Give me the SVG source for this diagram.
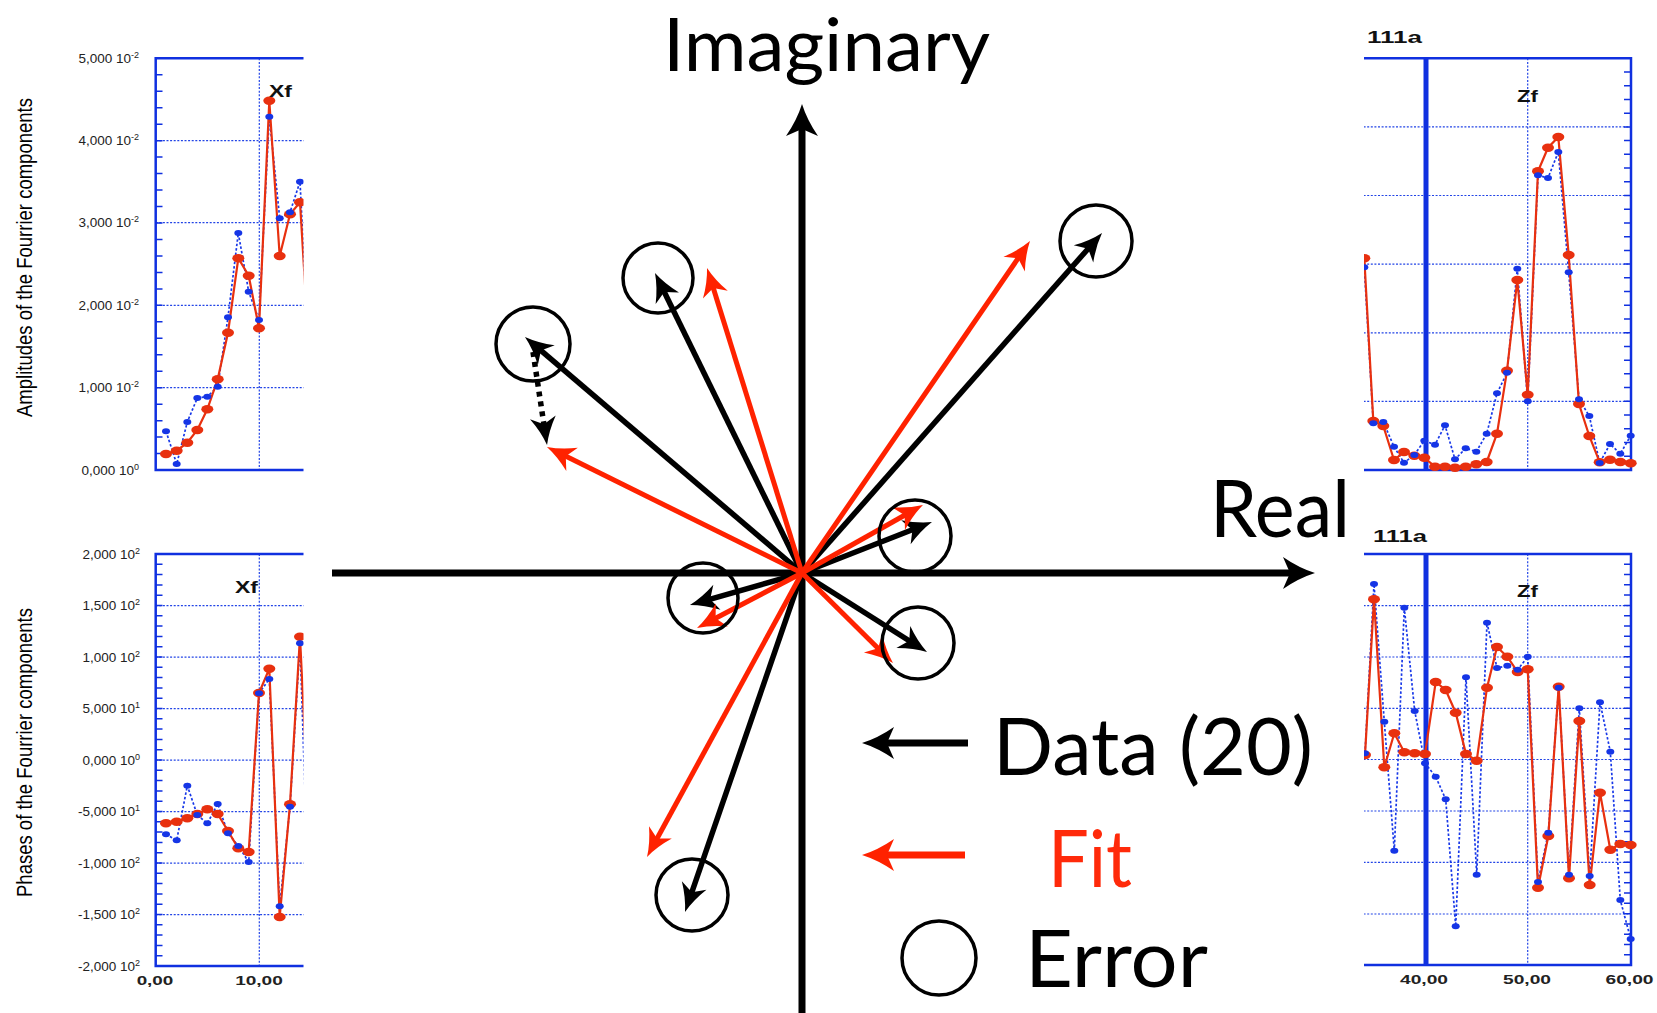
<svg xmlns="http://www.w3.org/2000/svg" width="1657" height="1013" viewBox="0 0 1657 1013">
<style>
.frame{stroke:#1030e0;stroke-width:2.5;fill:none}
.thick{stroke:#1030e0;stroke-width:5;fill:none}
.grid{stroke:#2244e6;stroke-width:1.2;stroke-dasharray:2 1.6;fill:none}
.tick{stroke:#1030e0;fill:none}
.sb{stroke:#1838e8;stroke-width:1.7;stroke-dasharray:2.5 2;fill:none}
.sr{stroke:#e8300f;stroke-width:2.2;fill:none;marker-start:url(#rdot);marker-mid:url(#rdot);marker-end:url(#rdot)}
.sbm{stroke:none;fill:none;marker-start:url(#bdot);marker-mid:url(#bdot);marker-end:url(#bdot)}
.ylab{font-family:"Liberation Sans",Arial,sans-serif;font-size:13.5px;fill:#222;text-anchor:end}
.xlab{font-family:"Liberation Sans",Arial,sans-serif;font-size:13px;font-weight:bold;fill:#222;text-anchor:middle}
.ctitle{font-family:"Liberation Sans",Arial,sans-serif;font-size:17px;font-weight:bold;fill:#111}
.atitle{font-family:"Liberation Sans",Arial,sans-serif;font-size:22px;fill:#000;text-anchor:middle}
.big{font-family:Lato,"Open Sans","DejaVu Sans",sans-serif;font-size:80px;fill:#000}
.axis{stroke:#000;stroke-width:7;fill:none;marker-end:url(#axh)}
.vb{stroke:#000;stroke-width:5.5;fill:none;marker-end:url(#hb)}
.vr{stroke:#ff2200;stroke-width:5;fill:none;marker-end:url(#hr)}
.err{fill:none;stroke:#000;stroke-width:3.5}
</style>
<defs>
<marker id="rdot" markerUnits="userSpaceOnUse" markerWidth="14" markerHeight="10" refX="7" refY="5" orient="0"><ellipse cx="7" cy="5" rx="6" ry="4.2" fill="#e8300f"/></marker>
<marker id="bdot" markerUnits="userSpaceOnUse" markerWidth="10" markerHeight="8" refX="5" refY="4" orient="0"><ellipse cx="5" cy="4" rx="4" ry="3" fill="#1535e6"/></marker>
<marker id="hb" markerUnits="userSpaceOnUse" overflow="visible" orient="auto" refX="0" refY="0" markerWidth="1" markerHeight="1"><path d="M15,0 Q1,-4 -13,-13 L-6,0 L-13,13 Q1,4 15,0 Z" fill="#000"/></marker>
<marker id="hr" markerUnits="userSpaceOnUse" overflow="visible" orient="auto" refX="0" refY="0" markerWidth="1" markerHeight="1"><path d="M15,0 Q1,-4 -13,-13 L-6,0 L-13,13 Q1,4 15,0 Z" fill="#ff2200"/></marker>
<marker id="axh" markerUnits="userSpaceOnUse" overflow="visible" orient="auto" refX="0" refY="0" markerWidth="1" markerHeight="1"><path d="M18,0 Q2,-5 -14,-16 L-7,0 L-14,16 Q2,5 18,0 Z" fill="#000"/></marker>
<marker id="axhr" markerUnits="userSpaceOnUse" overflow="visible" orient="auto" refX="0" refY="0" markerWidth="1" markerHeight="1"><path d="M18,0 Q2,-5 -14,-16 L-7,0 L-14,16 Q2,5 18,0 Z" fill="#ff2200"/></marker>
<clipPath id="clipL"><rect x="0" y="0" width="303.5" height="1013"/></clipPath>
<clipPath id="clipR"><rect x="1364" y="0" width="293" height="1013"/></clipPath>
</defs>
<rect width="1657" height="1013" fill="#fff"/>

<!-- Top-left chart: amplitudes Xf -->
<g id="chart-amplitude-xf">
<text class="atitle" transform="translate(32,257.5) rotate(-90)" textLength="319" lengthAdjust="spacingAndGlyphs">Amplitudes of the Fourrier components</text>
<text class="ylab" x="139" y="62.8">5,000 10<tspan font-size="9" dy="-5">-2</tspan></text>
<text class="ylab" x="139" y="145.2">4,000 10<tspan font-size="9" dy="-5">-2</tspan></text>
<text class="ylab" x="139" y="227.2">3,000 10<tspan font-size="9" dy="-5">-2</tspan></text>
<text class="ylab" x="139" y="309.8">2,000 10<tspan font-size="9" dy="-5">-2</tspan></text>
<text class="ylab" x="139" y="392.2">1,000 10<tspan font-size="9" dy="-5">-2</tspan></text>
<text class="ylab" x="139" y="474.5">0,000 10<tspan font-size="9" dy="-5">0</tspan></text>
<g clip-path="url(#clipL)">
<path class="grid" d="M155.7,140.7H304M155.7,222.7H304M155.7,305.3H304M155.7,387.7H304M259.3,58.3V470"/>
<line class="tick" x1="159.1" y1="57.55" x2="159.1" y2="470.75" stroke-width="6.8" stroke-dasharray="1.5 14.97"/>
<path class="frame" d="M304,58.3H155.7V470H304"/>
<polyline class="sb" points="166,431.3 176.7,464 187.3,422 197.3,398 207.3,396.7 217.7,386.7 228,317.3 238.3,233 248.7,291.7 259,320 269.3,116.7 279.7,218.3 290,212.3 300,181.7 310.4,386"/>
<polyline class="sr" points="166,454 176.7,450.7 187.3,442.7 197.3,430 207.3,409.3 217.7,379.3 228,332.7 238.3,258.3 248.7,275.7 259,328.3 269.3,100.7 279.7,256 290,214.3 300,202.3 310.4,373"/>
<polyline class="sbm" points="166,431.3 176.7,464 187.3,422 197.3,398 207.3,396.7 217.7,386.7 228,317.3 238.3,233 248.7,291.7 259,320 269.3,116.7 279.7,218.3 290,212.3 300,181.7 310.4,386"/>
</g>
<text class="ctitle" x="269" y="96.7" textLength="23" lengthAdjust="spacingAndGlyphs">Xf</text>
</g>

<!-- Bottom-left chart: phases Xf -->
<g id="chart-phase-xf">
<text class="atitle" transform="translate(32,752.5) rotate(-90)" textLength="289" lengthAdjust="spacingAndGlyphs">Phases of the Fourrier components</text>
<text class="ylab" x="140" y="558.5">2,000 10<tspan font-size="9" dy="-5">2</tspan></text>
<text class="ylab" x="140" y="610.2">1,500 10<tspan font-size="9" dy="-5">2</tspan></text>
<text class="ylab" x="140" y="661.7">1,000 10<tspan font-size="9" dy="-5">2</tspan></text>
<text class="ylab" x="140" y="713.2">5,000 10<tspan font-size="9" dy="-5">1</tspan></text>
<text class="ylab" x="140" y="764.7">0,000 10<tspan font-size="9" dy="-5">0</tspan></text>
<text class="ylab" x="140" y="816.2">-5,000 10<tspan font-size="9" dy="-5">1</tspan></text>
<text class="ylab" x="140" y="867.7">-1,000 10<tspan font-size="9" dy="-5">2</tspan></text>
<text class="ylab" x="140" y="919.2">-1,500 10<tspan font-size="9" dy="-5">2</tspan></text>
<text class="ylab" x="140" y="970.5">-2,000 10<tspan font-size="9" dy="-5">2</tspan></text>
<text class="xlab" x="155" y="985" textLength="36.7" lengthAdjust="spacingAndGlyphs">0,00</text>
<text class="xlab" x="259" y="985" textLength="47.7" lengthAdjust="spacingAndGlyphs">10,00</text>
<g clip-path="url(#clipL)">
<path class="grid" d="M155.7,605.7H304M155.7,657.2H304M155.7,708.7H304M155.7,760.2H304M155.7,811.7H304M155.7,863.2H304M155.7,914.7H304M259.3,554V966"/>
<line class="tick" x1="159.1" y1="553.25" x2="159.1" y2="966.75" stroke-width="6.8" stroke-dasharray="1.5 8.8"/>
<path class="frame" d="M304,554H155.7V966H304"/>
<polyline class="sb" points="166,834.3 176.7,840.3 187.3,785.7 197.3,815 207.3,823.3 217.7,804 228,833.3 238.3,846 248.7,862 259,693.3 269.3,679 279.7,906.3 290,806.7 300,643.3 310.4,953"/>
<polyline class="sr" points="166,823.3 176.7,821.7 187.3,818.3 197.3,814 207.3,809.3 217.7,814 228,831 238.3,848.3 248.7,852 259,693 269.3,668.7 279.7,917 290,804.3 300,636.7 310.4,852"/>
<polyline class="sbm" points="166,834.3 176.7,840.3 187.3,785.7 197.3,815 207.3,823.3 217.7,804 228,833.3 238.3,846 248.7,862 259,693.3 269.3,679 279.7,906.3 290,806.7 300,643.3 310.4,953"/>
</g>
<text class="ctitle" x="235" y="592.7" textLength="23" lengthAdjust="spacingAndGlyphs">Xf</text>
</g>

<!-- Top-right chart: amplitudes Zf -->
<g id="chart-amplitude-zf">
<text class="ctitle" x="1367" y="42.7" font-size="18" textLength="55" lengthAdjust="spacingAndGlyphs">111a</text>
<g clip-path="url(#clipR)">
<path class="grid" d="M1360,126.9H1631M1360,195.5H1631M1360,264.2H1631M1360,332.8H1631M1360,401.4H1631M1527.7,58.3V470"/>
<line class="tick" x1="1627.5" y1="57.55" x2="1627.5" y2="470.75" stroke-width="7" stroke-dasharray="1.5 12.22"/>
<path class="frame" d="M1360,58.3H1631V470H1360"/>
<line class="thick" x1="1426" y1="58.3" x2="1426" y2="470"/>
<polyline class="sb" points="1364.3,267.3 1373.3,423.3 1383.3,422 1394,446.7 1404,462.7 1414.3,455 1424.3,440.7 1435,444.7 1445,425.3 1455,459.3 1465.7,448.3 1476.3,451.7 1486.7,433.7 1497,393.3 1507,372.7 1517.3,268.7 1527.7,401.3 1538,175.3 1548,178 1558.3,152 1568.7,272.3 1579,399.3 1589.3,416 1599.7,463 1610,444 1620.3,453.7 1630.7,435.7"/>
<polyline class="sr" points="1364.3,258.3 1373.3,421 1383.3,426 1394,460 1404,452 1414.3,455.7 1424.3,457.7 1435,466.7 1445,466.7 1455,467.7 1465.7,466.7 1476.3,464.3 1486.7,462 1497,433.7 1507,370.7 1517.3,280 1527.7,394.7 1538,171.3 1548,147.7 1558.3,137 1568.7,255 1579,404 1589.3,436 1599.7,462.3 1610,459.7 1620.3,462 1630.7,463.3"/>
<polyline class="sbm" points="1364.3,267.3 1373.3,423.3 1383.3,422 1394,446.7 1404,462.7 1414.3,455 1424.3,440.7 1435,444.7 1445,425.3 1455,459.3 1465.7,448.3 1476.3,451.7 1486.7,433.7 1497,393.3 1507,372.7 1517.3,268.7 1527.7,401.3 1538,175.3 1548,178 1558.3,152 1568.7,272.3 1579,399.3 1589.3,416 1599.7,463 1610,444 1620.3,453.7 1630.7,435.7"/>
</g>
<text class="ctitle" x="1517" y="101.7" textLength="21" lengthAdjust="spacingAndGlyphs">Zf</text>
</g>

<!-- Bottom-right chart: phases Zf -->
<g id="chart-phase-zf">
<text class="ctitle" x="1373" y="541.7" font-size="18" textLength="54" lengthAdjust="spacingAndGlyphs">111a</text>
<text class="xlab" x="1424" y="984" textLength="48" lengthAdjust="spacingAndGlyphs">40,00</text>
<text class="xlab" x="1527" y="984" textLength="48" lengthAdjust="spacingAndGlyphs">50,00</text>
<text class="xlab" x="1629.5" y="984" textLength="48" lengthAdjust="spacingAndGlyphs">60,00</text>
<g clip-path="url(#clipR)">
<path class="grid" d="M1360,605.7H1631M1360,657H1631M1360,708.3H1631M1360,759.5H1631M1360,811H1631M1360,862.3H1631M1360,914H1631M1527.7,554V965"/>
<line class="tick" x1="1627.5" y1="553.25" x2="1627.5" y2="965.75" stroke-width="7" stroke-dasharray="1.5 8.775"/>
<path class="frame" d="M1360,554H1631V965H1360"/>
<line class="thick" x1="1426" y1="554" x2="1426" y2="965"/>
<polyline class="sb" points="1365,753.3 1374,584 1384.3,721.7 1394.3,850.7 1404.3,607.7 1414.7,711 1425,763.3 1435.7,776.7 1445.7,799.3 1455.7,926.3 1466,677.3 1476.7,874.7 1487,622.7 1497,668 1507.3,665.7 1517.7,669.7 1527.7,656.7 1538,882 1548.3,832.7 1558.7,687.7 1569,874.7 1579.3,708.3 1589.7,876 1600,702.3 1610.3,751.7 1620.3,900 1630.7,939"/>
<polyline class="sr" points="1365,755 1374,599.3 1384.3,767.3 1394.3,733.3 1404.3,752.3 1414.7,753.3 1425,754 1435.7,682 1445.7,690 1455.7,712.7 1466,754 1476.7,760.7 1487,687.7 1497,647 1507.3,656.7 1517.7,672 1527.7,669.3 1538,887.7 1548.3,836 1558.7,686.7 1569,878.3 1579.3,721 1589.7,885 1600,792.7 1610.3,849.7 1620.3,844 1630.7,845"/>
<polyline class="sbm" points="1365,753.3 1374,584 1384.3,721.7 1394.3,850.7 1404.3,607.7 1414.7,711 1425,763.3 1435.7,776.7 1445.7,799.3 1455.7,926.3 1466,677.3 1476.7,874.7 1487,622.7 1497,668 1507.3,665.7 1517.7,669.7 1527.7,656.7 1538,882 1548.3,832.7 1558.7,687.7 1569,874.7 1579.3,708.3 1589.7,876 1600,702.3 1610.3,751.7 1620.3,900 1630.7,939"/>
</g>
<text class="ctitle" x="1517" y="597.3" textLength="21" lengthAdjust="spacingAndGlyphs">Zf</text>
</g>

<!-- Complex plane axes -->
<g id="axes">
<line class="axis" x1="332" y1="573" x2="1297" y2="573"/>
<line class="axis" x1="802" y1="1013" x2="802" y2="122"/>
<text id="label-imaginary" class="big" x="663" y="71" font-size="74" style="font-size:74px" textLength="327" lengthAdjust="spacingAndGlyphs">Imaginary</text>
<text id="label-real" class="big" x="1210" y="537" textLength="140" lengthAdjust="spacingAndGlyphs">Real</text>
</g>

<!-- Vectors (connectors) -->
<g id="connectors">
<line class="vb" x1="802" y1="573" x2="536.4" y2="346.7"/>
<line class="vb" x1="802" y1="573" x2="661.6" y2="286.5"/>
<line class="vb" x1="802" y1="573" x2="1092.1" y2="244.2"/>
<line class="vb" x1="802" y1="573" x2="918" y2="527.5"/>
<line class="vb" x1="802" y1="573" x2="704.4" y2="600.9"/>
<line class="vb" x1="802" y1="573" x2="914.3" y2="644"/>
<line class="vb" x1="802" y1="573" x2="689.9" y2="897.8"/>
<line class="vb" x1="533" y1="352" x2="544.8" y2="430.2" stroke-width="5" stroke-dasharray="5 5"/>
<line class="vr" x1="802" y1="573" x2="560.4" y2="453.6"/>
<line class="vr" x1="802" y1="573" x2="711.5" y2="282.3"/>
<line class="vr" x1="802" y1="573" x2="1021.5" y2="253.4"/>
<line class="vr" x1="802" y1="573" x2="909.9" y2="512.3"/>
<line class="vr" x1="802" y1="573" x2="710.3" y2="621"/>
<line class="vr" x1="802" y1="573" x2="882.3" y2="652.5"/>
<line class="vr" x1="802" y1="573" x2="654.2" y2="843.8"/>
</g>

<!-- Error circles -->
<g id="errors">
<circle class="err" cx="533" cy="344" r="37"/>
<circle class="err" cx="658" cy="278" r="35"/>
<circle class="err" cx="1096" cy="241" r="36"/>
<circle class="err" cx="915" cy="536" r="36"/>
<circle class="err" cx="703" cy="598" r="35"/>
<circle class="err" cx="918" cy="643" r="36"/>
<circle class="err" cx="692" cy="895" r="36"/>
</g>

<!-- Legend -->
<g id="legend">
<line class="axis" x1="968" y1="743" x2="880" y2="743"/>
<text class="big" x="993" y="775" textLength="320" lengthAdjust="spacingAndGlyphs">Data (20)</text>
<line class="axis" x1="965" y1="855" x2="880" y2="855" style="stroke:#ff2200;marker-end:url(#axhr)"/>
<text class="big" x="1048" y="887" textLength="84" lengthAdjust="spacingAndGlyphs" style="fill:#ff2a0a">Fit</text>
<circle class="err" cx="939" cy="958" r="37"/>
<text class="big" x="1025" y="987" textLength="183" lengthAdjust="spacingAndGlyphs">Error</text>
</g>
</svg>
